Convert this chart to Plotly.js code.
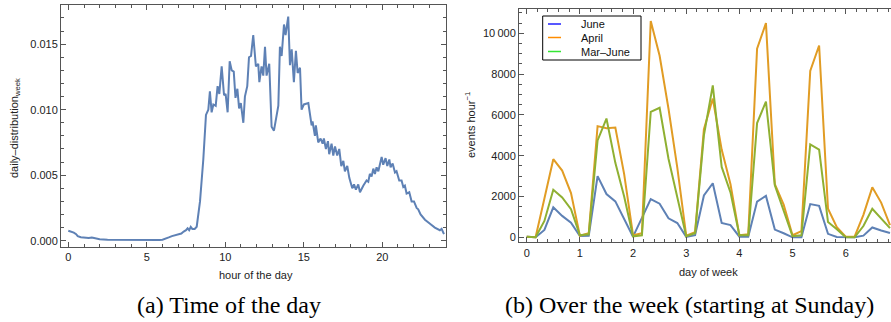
<!DOCTYPE html>
<html>
<head>
<meta charset="utf-8">
<script src="https://cdn.plot.ly/plotly-3.0.1.min.js"></script>
<style>html,body{margin:0;padding:0;background:#fff;}#chart{width:891px;height:322px;}</style>
</head>
<body>
<div id="chart"></div>
<script>
// ---- Panel (a): daily distribution over the week ----
const hours = [
  0,0.2,0.35,0.5,0.6,0.8,1.0,1.3,1.5,1.7,
  2.0,2.5,3,3.5,4,4.5,5,5.5,5.8,6.0,
  6.2,6.4,6.6,6.8,7.0,7.2,7.35,7.5,7.6,7.7,
  7.8,7.9,8.05,8.18,8.39,8.6,8.77,8.92,9.02,9.13,
  9.24,9.39,9.51,9.62,9.77,9.92,10.02,10.15,10.28,10.41,
  10.54,10.65,10.77,10.88,10.99,11.15,11.25,11.40,11.51,11.64,
  11.78,11.95,12.10,12.17,12.31,12.42,12.53,12.63,12.80,12.89,
  12.95,13.10,13.23,13.38,13.48,13.59,13.74,13.84,14.01,14.12,
  14.23,14.37,14.50,14.61,14.76,14.86,15.01,15.29,15.50,15.56,
  15.71,15.77,15.92,16.07,16.20,16.28,16.41,16.54,16.62,16.77,
  16.88,16.99,17.13,17.26,17.39,17.52,17.62,17.77,17.90,17.98,
  18.09,18.20,18.32,18.47,18.58,18.79,19.00,19.11,19.21,19.32,
  19.43,19.53,19.64,19.75,19.96,20.06,20.21,20.32,20.45,20.53,
  20.66,20.81,20.91,21.08,21.23,21.34,21.44,21.55,21.72,21.87,
  22.02,22.19,22.29,22.44,22.72,23.04,23.35,23.67,23.78,23.93
];
const dailyDist = [
  0.00076,0.0007,0.00062,0.0005,0.00035,0.00027,0.00025,0.0002,0.00025,0.00018,
  0.00012,0.00008,0.00007,0.00004,0.00003,0.00003,0.00002,0.00003,0.00005,0.00008,
  0.00015,0.00025,0.00035,0.0004,0.00048,0.00055,0.0007,0.0008,0.00095,0.0008,
  0.00105,0.0009,0.0009,0.00107,0.003,0.0062,0.0096,0.0100,0.0114,0.0098,
  0.0104,0.0103,0.0118,0.0112,0.0133,0.0111,0.0112,0.0098,0.0137,0.0130,
  0.0129,0.0109,0.0116,0.0101,0.0105,0.0090,0.0110,0.0118,0.0140,0.0141,
  0.0157,0.0133,0.0135,0.0121,0.0133,0.0126,0.0148,0.0126,0.0135,0.0102,
  0.0087,0.0084,0.0093,0.0103,0.0148,0.0141,0.0165,0.0157,0.0171,0.0134,
  0.0146,0.0121,0.0145,0.0128,0.0132,0.0100,0.0104,0.0105,0.0088,0.0091,
  0.0080,0.0088,0.0075,0.0078,0.0074,0.0078,0.0070,0.0076,0.0066,0.0074,
  0.0065,0.0072,0.0065,0.0070,0.0057,0.0061,0.0053,0.0057,0.0048,0.0044,
  0.0040,0.0043,0.0039,0.0043,0.0037,0.0042,0.0046,0.0045,0.0051,0.0049,
  0.0055,0.0051,0.0056,0.0053,0.0064,0.0058,0.0063,0.0057,0.0062,0.0056,
  0.0059,0.0052,0.0053,0.0046,0.0046,0.0041,0.0042,0.0036,0.0037,0.0030,
  0.0030,0.0025,0.0024,0.0020,0.0016,0.0013,0.0010,0.0008,0.0009,0.0005
];

// ---- Panel (b): events per hour over the week (4-hour bins) ----
const days = [
  0,0.167,0.333,0.5,0.667,0.833,1,1.167,1.333,1.5,
  1.667,1.833,2,2.167,2.333,2.5,2.667,2.833,3,3.167,
  3.333,3.5,3.667,3.833,4,4.167,4.333,4.5,4.667,4.833,
  5,5.167,5.333,5.5,5.667,5.833,6,6.167,6.333,6.5,
  6.667,6.833
];
const june = [
  30,0,360,1470,1050,720,60,80,3000,2120,
  1760,900,30,950,1870,1650,930,700,20,100,
  2050,2650,700,600,30,30,1750,2030,380,200,
  0,0,1630,1540,170,20,0,0,80,480,
  330,210
];
const april = [
  30,0,1900,3830,3270,2170,80,200,5450,5350,
  5380,3100,100,200,10600,8900,6300,3400,80,250,
  5300,6800,4300,2600,100,150,9250,10500,2600,1600,
  100,300,8150,9400,1400,500,30,30,1100,2450,
  1700,600
];
const marJune = [
  30,0,800,2330,1950,1380,100,150,4750,5820,
  3650,2000,50,100,6150,6350,3850,1900,50,200,
  5000,7450,3450,2200,100,100,5600,6650,2550,1300,
  50,100,4550,4300,750,400,0,0,550,1400,
  950,450
];
const seriesNames = ['June','April','Mar\u2013June'];
const lineColors = ['#5E81B5','#E19C24','#8FB032'];
const legendColors = ['#2020FF','#FF8C00','#33E633'];

const W = 891, H = 322;
const px = v => v / W, py = v => 1 - v / H;

const font = {family:'Liberation Sans, Arial, sans-serif', size:11, color:'#222'};
const axisBase = {
  showline:true, linecolor:'#555', linewidth:1, ticks:'inside', tickcolor:'#555',
  ticklen:5, tickwidth:1, showgrid:false, zeroline:false, tickfont:font
};

const traces = [
  {x:hours, y:dailyDist, xaxis:'x', yaxis:'y', mode:'lines', showlegend:false,
   line:{color:lineColors[0], width:2}},
  {x:days, y:june, xaxis:'x2', yaxis:'y2', mode:'lines', name:seriesNames[0], showlegend:false,
   line:{color:lineColors[0], width:2}},
  {x:days, y:april, xaxis:'x2', yaxis:'y2', mode:'lines', name:seriesNames[1], showlegend:false,
   line:{color:lineColors[1], width:2}},
  {x:days, y:marJune, xaxis:'x2', yaxis:'y2', mode:'lines', name:seriesNames[2], showlegend:false,
   line:{color:lineColors[2], width:2}}
];

// Hand-placed legend box (Mathematica style)
const legBox = {x0:542.7, x1:641, y0:16, y1:60};
const legRows = [24, 37.5, 51.5];
const shapes = [
  {type:'rect', xref:'paper', yref:'paper', x0:px(legBox.x0), x1:px(legBox.x1), y0:py(legBox.y1), y1:py(legBox.y0),
   line:{color:'#000', width:1}, fillcolor:'#fff', layer:'above'}
];
const annotations = [
  {text:'hour of the day', xref:'paper', yref:'paper', x:px(256), y:py(275), showarrow:false,
   font:font, xanchor:'center', yanchor:'middle'},
  {text:'daily\u2013distribution<sub>week</sub>', xref:'paper', yref:'paper', x:px(15), y:py(128),
   showarrow:false, textangle:-90, font:font, xanchor:'center', yanchor:'middle'},
  {text:'day of week', xref:'paper', yref:'paper', x:px(708), y:py(272), showarrow:false,
   font:font, xanchor:'center', yanchor:'middle'},
  {text:'events hour<sup>\u22121</sup>', xref:'paper', yref:'paper', x:px(470), y:py(125),
   showarrow:false, textangle:-90, font:font, xanchor:'center', yanchor:'middle'},
  {text:'(a) Time of the day', xref:'paper', yref:'paper', x:px(229), y:py(305), showarrow:false,
   font:{family:'Liberation Serif, Times New Roman, serif', size:24, color:'#000'}, xanchor:'center', yanchor:'middle'},
  {text:'(b) Over the week (starting at Sunday)', xref:'paper', yref:'paper', x:px(689), y:py(305), showarrow:false,
   font:{family:'Liberation Serif, Times New Roman, serif', size:24, color:'#000'}, xanchor:'center', yanchor:'middle'}
];
seriesNames.forEach((n,i)=>{
  shapes.push({type:'line', xref:'paper', yref:'paper', x0:px(548), x1:px(561), y0:py(legRows[i]), y1:py(legRows[i]),
    line:{color:legendColors[i], width:1.5}, layer:'above'});
  annotations.push({text:n, xref:'paper', yref:'paper', x:px(579), y:py(legRows[i]), showarrow:false,
    xanchor:'left', yanchor:'middle', font:{family:'Liberation Sans, Arial, sans-serif', size:11, color:'#111'}});
});

const layout = {
  width:W, height:H, margin:{l:0,r:0,t:0,b:0}, paper_bgcolor:'#fff', plot_bgcolor:'#fff',
  font:font, showlegend:false,
  xaxis:Object.assign({}, axisBase, {domain:[px(61),px(446)], range:[-0.465,24.06],
    tickvals:[0,5,10,15,20], ticktext:['0','5','10','15','20'], mirror:'ticks',
    minor:{dtick:1, tick0:0, ticklen:3, ticks:'inside', tickcolor:'#555'}, anchor:'y'}),
  yaxis:Object.assign({}, axisBase, {domain:[py(247),py(5)], range:[-0.00048,0.01799],
    tickvals:[0,0.005,0.010,0.015], ticktext:['0.000','0.005','0.010','0.015'], mirror:'ticks',
    minor:{dtick:0.001, tick0:0, ticklen:3, ticks:'inside', tickcolor:'#555'}, anchor:'x'}),
  xaxis2:Object.assign({}, axisBase, {domain:[px(519),1], range:[-0.145,6.852],
    tickvals:[0,1,2,3,4,5,6], mirror:'ticks',
    minor:{dtick:0.2, tick0:0, ticklen:3, ticks:'inside', tickcolor:'#555'}, anchor:'y2'}),
  yaxis2:Object.assign({}, axisBase, {domain:[py(242.3),py(9.3)], range:[-245,11176],
    tickvals:[0,2000,4000,6000,8000,10000], ticktext:['0','2000','4000','6000','8000','10\u2009000'],
    minor:{dtick:500, tick0:0, ticklen:3, ticks:'inside', tickcolor:'#555'}, anchor:'x2'}),
  shapes:shapes,
  annotations:annotations
};

Plotly.newPlot('chart', traces, layout, {displayModeBar:false, staticPlot:true});
</script>
</body>
</html>
